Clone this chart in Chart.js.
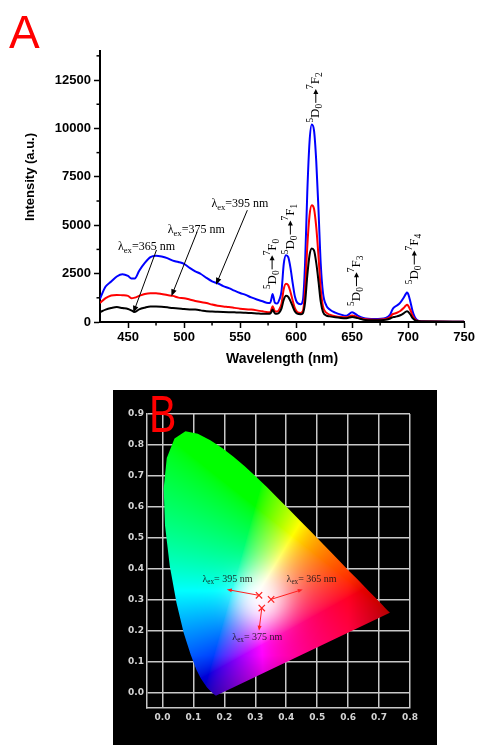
<!DOCTYPE html>
<html>
<head>
<meta charset="utf-8">
<script src="https://cdn.jsdelivr.net/npm/chart.js@4/dist/chart.umd.min.js"></script>
<style>
    html, body { margin: 0; padding: 0; background: #fff; }
    #spectra-chart { position: absolute; left: 0; top: 0; }
    #cie-chart { position: absolute; left: 113px; top: 390px; background: #000; }
</style>
</head>
<body>
<canvas id="spectra-chart" width="477" height="370"></canvas>
<canvas id="cie-chart" width="324" height="355"></canvas>
<script>
"use strict";
// ---- panel A: emission spectra ----
const wavelengths = [425, 430, 435, 440, 445, 450, 453, 456, 460, 465,
    470, 475, 480, 485, 490, 495, 500, 505, 510, 515,
    520, 525, 530, 535, 540, 545, 550, 555, 560, 565,
    570, 575, 577, 578, 579, 580, 581, 583, 585, 587,
    589, 591, 593, 595, 597, 599, 601, 604, 606, 608,
    610, 612, 614, 616, 618, 620, 622, 624, 627, 630,
    635, 640, 645, 650, 655, 660, 670, 680, 684, 686,
    688, 690, 693, 696, 698, 699, 700, 702, 704, 706,
    708, 712, 720, 750];
const intensity395 = [1200, 1830, 2090, 2350, 2470, 2380, 2250, 2250, 2650, 3050,
    3350, 3420, 3380, 3300, 3170, 3100, 3000, 2800, 2620, 2480,
    2280, 2100, 2000, 1850, 1750, 1620, 1500, 1400, 1270, 1160,
    1070, 980, 1000, 1200, 1450, 1250, 1000, 950, 1150, 1600,
    3000, 3450, 3350, 2800, 2000, 1300, 1000, 920, 1100, 3000,
    6700, 9300, 10200, 9900, 8300, 5800, 3000, 1500, 850, 650,
    480, 380, 320, 500, 330, 210, 160, 210, 380, 650,
    780, 850, 1000, 1250, 1450, 1520, 1450, 1050, 550, 250,
    100, 40, 30, 10];
const intensity375 = [980, 1230, 1370, 1400, 1380, 1350, 1230, 1260, 1350, 1450,
    1490, 1490, 1450, 1390, 1350, 1260, 1230, 1160, 1090, 1030,
    980, 900, 840, 800, 770, 730, 690, 660, 640, 600,
    550, 510, 520, 650, 820, 700, 560, 540, 650, 950,
    1700, 1970, 1900, 1550, 1100, 700, 520, 470, 560, 1600,
    3900, 5500, 6030, 5850, 4900, 3400, 1700, 800, 480, 380,
    300, 260, 240, 340, 240, 160, 120, 160, 260, 400,
    440, 480, 570, 720, 850, 890, 850, 620, 320, 150,
    70, 30, 20, 10];
const intensity365 = [510, 640, 720, 770, 720, 670, 600, 520, 650, 740,
    800, 800, 790, 760, 720, 700, 670, 650, 640, 600,
    550, 540, 530, 520, 510, 500, 490, 475, 460, 445,
    430, 430, 440, 520, 640, 550, 450, 430, 480, 700,
    1150, 1350, 1300, 1080, 800, 540, 430, 400, 450, 1000,
    2400, 3450, 3800, 3700, 3050, 2100, 1050, 520, 330, 290,
    240, 210, 200, 260, 200, 120, 90, 120, 180, 240,
    260, 290, 350, 450, 530, 560, 530, 390, 200, 100,
    50, 25, 20, 10];
const xTicks = [450, 500, 550, 600, 650, 700, 750];
const xMinorTicks = [475, 525, 575, 625, 675, 725];
const yTicks = [0, 2500, 5000, 7500, 10000, 12500];
const yMinorTicks = [1250, 3750, 6250, 8750, 11250, 13750];

// ---- panel B: CIE 1931 chromaticity ----
const locusX = [0.1741, 0.1733, 0.1714, 0.1644, 0.1566, 0.1440, 0.1241, 0.1096, 0.0913, 0.0687,
    0.0454, 0.0235, 0.0082, 0.0039, 0.0139, 0.0389, 0.0743, 0.1142, 0.1547, 0.1929,
    0.2296, 0.2658, 0.3016, 0.3373, 0.3731, 0.4087, 0.4441, 0.4788, 0.5125, 0.5448,
    0.5752, 0.6029, 0.6270, 0.6658, 0.6915, 0.7079, 0.7190, 0.7260, 0.7300, 0.7334, 0.7347];
const locusY = [-0.010, -0.010, -0.010, -0.004, 0.003, 0.016, 0.045, 0.074, 0.122, 0.192,
    0.289, 0.410, 0.540, 0.659, 0.758, 0.821, 0.844, 0.836, 0.815, 0.790,
    0.762, 0.731, 0.698, 0.664, 0.628, 0.592, 0.556, 0.521, 0.486, 0.453,
    0.422, 0.393, 0.369, 0.329, 0.303, 0.286, 0.274, 0.267, 0.263, 0.260, 0.258];
const cieX = [0.312, 0.351, 0.321];
const cieY = [0.314, 0.301, 0.273];
const cieExcitation = ["395", "365", "375"];
const cieTicksX = [0, 0.1, 0.2, 0.3, 0.4, 0.5, 0.6, 0.7, 0.8];
const cieTicksY = [0, 0.1, 0.2, 0.3, 0.4, 0.5, 0.6, 0.7, 0.8, 0.9];

const serif = '"Liberation Serif", "Times New Roman", serif';
const sans = '"Liberation Sans", Arial, sans-serif';

// draws a run of text parts (normal / sub / sup / arrow) starting at x, centred on y
const partsWidth = (ctx, parts, size) => {
    let w = 0;
    parts.forEach(p => {
        if (p.arrow) {
            w += p.arrow;
            return;
        }
        ctx.font = `${p.kind ? size * 0.72 : size}px ${serif}`;
        w += ctx.measureText(p.t).width;
    });
    return w;
};
const drawParts = (ctx, parts, x, y, size) => {
    ctx.textAlign = "left";
    ctx.textBaseline = "middle";
    let cx = x;
    parts.forEach(p => {
        if (p.arrow) {
            ctx.lineWidth = 1;
            ctx.beginPath();
            ctx.moveTo(cx + 1, y);
            ctx.lineTo(cx + p.arrow - 4, y);
            ctx.stroke();
            ctx.beginPath();
            ctx.moveTo(cx + p.arrow, y);
            ctx.lineTo(cx + p.arrow - 5, y - 2.5);
            ctx.lineTo(cx + p.arrow - 5, y + 2.5);
            ctx.closePath();
            ctx.fill();
            cx += p.arrow;
            return;
        }
        ctx.font = `${p.kind ? size * 0.72 : size}px ${serif}`;
        const dy = p.kind === "sub" ? size * 0.32 : p.kind === "sup" ? -size * 0.38 : 0;
        ctx.fillText(p.t, cx, y + dy);
        cx += ctx.measureText(p.t).width;
    });
};
const drawArrow = (ctx, x1, y1, x2, y2, head) => {
    const a = Math.atan2(y2 - y1, x2 - x1);
    const c = Math.cos(a), s = Math.sin(a);
    ctx.beginPath();
    ctx.moveTo(x1, y1);
    ctx.lineTo(x2 - c * head * 0.8, y2 - s * head * 0.8);
    ctx.stroke();
    ctx.beginPath();
    ctx.moveTo(x2, y2);
    ctx.lineTo(x2 - head * c + head * 0.4 * s, y2 - head * s - head * 0.4 * c);
    ctx.lineTo(x2 - head * c - head * 0.4 * s, y2 - head * s + head * 0.4 * c);
    ctx.closePath();
    ctx.fill();
};
const lambdaParts = nm => [{ t: "\u03bb" }, { t: "ex", kind: "sub" }, { t: "=" + nm + " nm" }];

// label anchors (data coordinates)
const excitationNotes = [
    { nm: "365", x: 441, y: 3890, from: [475.4, 3720], to: [454.7, 470] },
    { nm: "375", x: 485.4, y: 4780, from: [511.7, 4660], to: [488.7, 1330] },
    { nm: "395", x: 524.4, y: 6085, from: [556.5, 5777], to: [528.5, 1920] },
];
const transitionNotes = [
    { n: "0", x: 578.6, y: 3000 },
    { n: "1", x: 594.9, y: 4800 },
    { n: "2", x: 617.6, y: 11600 },
    { n: "3", x: 653.9, y: 2130 },
    { n: "4", x: 705.5, y: 3250 },
];

const spectraDecor = {
    id: "spectraDecor",
    afterDraw(chart) {
        const { ctx, scales: { x, y } } = chart;
        ctx.save();
        ctx.strokeStyle = "#000";
        ctx.fillStyle = "#000";
        // minor ticks
        ctx.lineWidth = 1.5;
        xMinorTicks.forEach(v => {
            const px = x.getPixelForValue(v);
            ctx.beginPath();
            ctx.moveTo(px, y.bottom);
            ctx.lineTo(px, y.bottom + 3.5);
            ctx.stroke();
        });
        yMinorTicks.forEach(v => {
            const py = y.getPixelForValue(v);
            ctx.beginPath();
            ctx.moveTo(x.left - 3.5, py);
            ctx.lineTo(x.left, py);
            ctx.stroke();
        });
        // y title
        ctx.save();
        ctx.translate(30, 177);
        ctx.rotate(-Math.PI / 2);
        ctx.font = `bold 13px ${sans}`;
        ctx.textAlign = "center";
        ctx.textBaseline = "middle";
        ctx.fillText("Intensity (a.u.)", 0, 0);
        ctx.restore();
        // excitation labels with pointers
        ctx.lineWidth = 1;
        excitationNotes.forEach(n => {
            drawParts(ctx, lambdaParts(n.nm), x.getPixelForValue(n.x), y.getPixelForValue(n.y), 12);
            drawArrow(ctx, x.getPixelForValue(n.from[0]), y.getPixelForValue(n.from[1]),
                x.getPixelForValue(n.to[0]), y.getPixelForValue(n.to[1]), 7);
        });
        // transition labels, rotated
        transitionNotes.forEach(n => {
            const parts = [{ t: "5", kind: "sup" }, { t: "D" }, { t: "0", kind: "sub" }, { arrow: 15 },
                { t: "7", kind: "sup" }, { t: "F" }, { t: n.n, kind: "sub" }];
            ctx.save();
            ctx.translate(x.getPixelForValue(n.x), y.getPixelForValue(n.y));
            ctx.rotate(-Math.PI / 2);
            const w = partsWidth(ctx, parts, 13);
            drawParts(ctx, parts, -w / 2, 0, 13);
            ctx.restore();
        });
        // panel letter
        ctx.fillStyle = "#ff0000";
        ctx.font = `46px ${sans}`;
        ctx.textAlign = "left";
        ctx.textBaseline = "alphabetic";
        ctx.fillText("A", 9, 48);
        ctx.restore();
    },
};

const toPoints = values => wavelengths.map((w, i) => ({ x: w, y: values[i] }));
const spectraConfig = {
    type: "line",
    data: {
        datasets: [
            { label: "365 nm", data: toPoints(intensity365), borderColor: "#000000" },
            { label: "375 nm", data: toPoints(intensity375), borderColor: "#ff0000" },
            { label: "395 nm", data: toPoints(intensity395), borderColor: "#0000ff" },
        ],
    },
    options: {
        responsive: false,
        animation: false,
        layout: { padding: { top: 51, right: 10, left: 0, bottom: 0 } },
        plugins: { legend: { display: false }, tooltip: { enabled: false } },
        elements: {
            point: { radius: 0 },
            line: { borderWidth: 2, cubicInterpolationMode: "monotone" },
        },
        scales: {
            x: {
                type: "linear",
                min: 425,
                max: 750,
                afterBuildTicks: scale => { scale.ticks = xTicks.map(v => ({ value: v })); },
                afterFit: scale => { scale.height = 48; },
                grid: { drawOnChartArea: false, tickLength: 6, tickWidth: 1.5, tickColor: "#000" },
                border: { color: "#000", width: 2 },
                ticks: {
                    color: "#000",
                    padding: 2,
                    maxRotation: 0,
                    autoSkip: false,
                    font: { family: sans, size: 13, weight: "bold" },
                    callback: v => String(v),
                },
                title: {
                    display: true,
                    text: "Wavelength (nm)",
                    color: "#000",
                    padding: { top: 0, bottom: 2 },
                    font: { family: sans, size: 14, weight: "bold" },
                },
            },
            y: {
                min: 0,
                max: 14000,
                afterBuildTicks: scale => { scale.ticks = yTicks.map(v => ({ value: v })); },
                afterFit: scale => { scale.width = 100; },
                grid: { drawOnChartArea: false, tickLength: 6, tickWidth: 1.5, tickColor: "#000" },
                border: { color: "#000", width: 2 },
                ticks: {
                    color: "#000",
                    padding: 3,
                    font: { family: sans, size: 13, weight: "bold" },
                    callback: v => String(v),
                },
            },
        },
    },
    plugins: [spectraDecor],
};

// chromaticity -> displayable sRGB (max-normalised, light gamma, soft white centre)
const encode = c => Math.pow(c, 1 / 1.5);
const clamp01 = v => Math.min(Math.max(v, 0), 1);
const chromaToRgb = (cx, cy) => {
    const yy = Math.max(cy, 0.002);
    const X = cx / yy, Y = 1, Z = (1 - cx - yy) / yy;
    const r = Math.max(3.2406 * X - 1.5372 * Y - 0.4986 * Z, 0);
    const g = Math.max(-0.9689 * X + 1.8758 * Y + 0.0415 * Z, 0);
    const b = Math.max(0.0557 * X - 0.2040 * Y + 1.0570 * Z, 0);
    const m = Math.max(r, g, b, 1e-6);
    const d2 = ((cx - 0.32) ** 2 + (cy - 0.30) ** 2) / (0.085 * 0.085);
    const white = 0.85 * Math.exp(-d2);
    const shade = (1 - 0.3 * clamp01((0.12 - cy) / 0.13)) * (1 - 0.3 * clamp01((cx - 0.6) / 0.14));
    return [r, g, b].map(c => (encode(c / m) * (1 - white) + white) * shade * 255);
};

const cieFill = {
    id: "cieFill",
    beforeDatasetsDraw(chart) {
        const { ctx, chartArea: area, scales: { x, y } } = chart;
        const w = Math.ceil(area.right - area.left);
        const h = Math.ceil(area.bottom - area.top);
        const off = document.createElement("canvas");
        off.width = w;
        off.height = h;
        const octx = off.getContext("2d");
        const img = octx.createImageData(w, h);
        for (let j = 0; j < h; j++) {
            const cy = y.getValueForPixel(area.top + j + 0.5);
            for (let i = 0; i < w; i++) {
                const cx = x.getValueForPixel(area.left + i + 0.5);
                const rgb = chromaToRgb(cx, cy);
                const k = (j * w + i) * 4;
                img.data[k] = rgb[0];
                img.data[k + 1] = rgb[1];
                img.data[k + 2] = rgb[2];
                img.data[k + 3] = 255;
            }
        }
        octx.putImageData(img, 0, 0);
        const meta = chart.getDatasetMeta(0);
        ctx.save();
        ctx.beginPath();
        meta.data.forEach((pt, i) => (i ? ctx.lineTo(pt.x, pt.y) : ctx.moveTo(pt.x, pt.y)));
        ctx.closePath();
        ctx.clip();
        ctx.drawImage(off, area.left, area.top);
        ctx.restore();
    },
};

const cieNotes = [
    { idx: 0, x: 0.210, y: 0.366, to: [0.208, 0.333] },
    { idx: 1, x: 0.482, y: 0.366, to: [0.4535, 0.333] },
    { idx: 2, x: 0.3065, y: 0.1786, to: [0.312, 0.200] },
];
const cieDecor = {
    id: "cieDecor",
    afterDraw(chart) {
        const { ctx, scales: { x, y } } = chart;
        ctx.save();
        ctx.strokeStyle = "#ff2020";
        ctx.fillStyle = "#ff2020";
        ctx.lineWidth = 1;
        cieNotes.forEach(n => {
            drawArrow(ctx, x.getPixelForValue(cieX[n.idx]), y.getPixelForValue(cieY[n.idx]),
                x.getPixelForValue(n.to[0]), y.getPixelForValue(n.to[1]), 5);
        });
        ctx.fillStyle = "rgba(20,20,20,0.9)";
        ctx.strokeStyle = "rgba(20,20,20,0.9)";
        cieNotes.forEach(n => {
            const parts = [{ t: "\u03bb" }, { t: "ex", kind: "sub" }, { t: "= " + cieExcitation[n.idx] + " nm" }];
            const w = partsWidth(ctx, parts, 10);
            drawParts(ctx, parts, x.getPixelForValue(n.x) - w / 2, y.getPixelForValue(n.y), 10);
        });
        ctx.fillStyle = "#ff0000";
        ctx.font = `41px ${sans}`;
        ctx.textAlign = "left";
        ctx.textBaseline = "alphabetic";
        ctx.scale(1, 1.25);
        ctx.fillText("B", 36, 42 / 1.25);
        ctx.restore();
    },
};

const cieAxis = (min, max, ticks) => ({
    type: "linear",
    min: min,
    max: max,
    afterBuildTicks: scale => { scale.ticks = ticks.map(v => ({ value: v })); },
    grid: { color: "#c8c8c8", lineWidth: 1.5, drawTicks: false },
    border: { display: true, color: "#c8c8c8", width: 1.5 },
    ticks: {
        color: "#d4d4d4",
        autoSkip: false,
        maxRotation: 0,
        font: { family: '"DejaVu Sans", sans-serif', size: 9, weight: "bold" },
        callback: v => v.toFixed(1),
    },
});
const cieXAxis = cieAxis(-0.05, 0.8, cieTicksX);
cieXAxis.afterFit = scale => { scale.height = 37; };
cieXAxis.ticks.padding = 4;
const cieYAxis = cieAxis(-0.05, 0.9, cieTicksY);
cieYAxis.afterFit = scale => { scale.width = 34; };
cieYAxis.ticks.padding = 3;

const cieConfig = {
    type: "scatter",
    data: {
        datasets: [
            {
                label: "spectral locus",
                data: locusX.map((v, i) => ({ x: v, y: locusY[i] })),
                pointRadius: 0,
                showLine: false,
            },
            {
                label: "CIE coordinates",
                data: cieX.map((v, i) => ({ x: v, y: cieY[i] })),
                pointStyle: "crossRot",
                pointRadius: 4.5,
                borderColor: "#ff2020",
                borderWidth: 1.2,
            },
        ],
    },
    options: {
        responsive: false,
        animation: false,
        layout: { padding: { top: 24, right: 27, left: 0, bottom: 0 } },
        plugins: { legend: { display: false }, tooltip: { enabled: false } },
        scales: { x: cieXAxis, y: cieYAxis },
    },
    plugins: [cieFill, cieDecor],
};

new Chart(document.getElementById("spectra-chart"), spectraConfig);
new Chart(document.getElementById("cie-chart"), cieConfig);
</script>
</body>
</html>
